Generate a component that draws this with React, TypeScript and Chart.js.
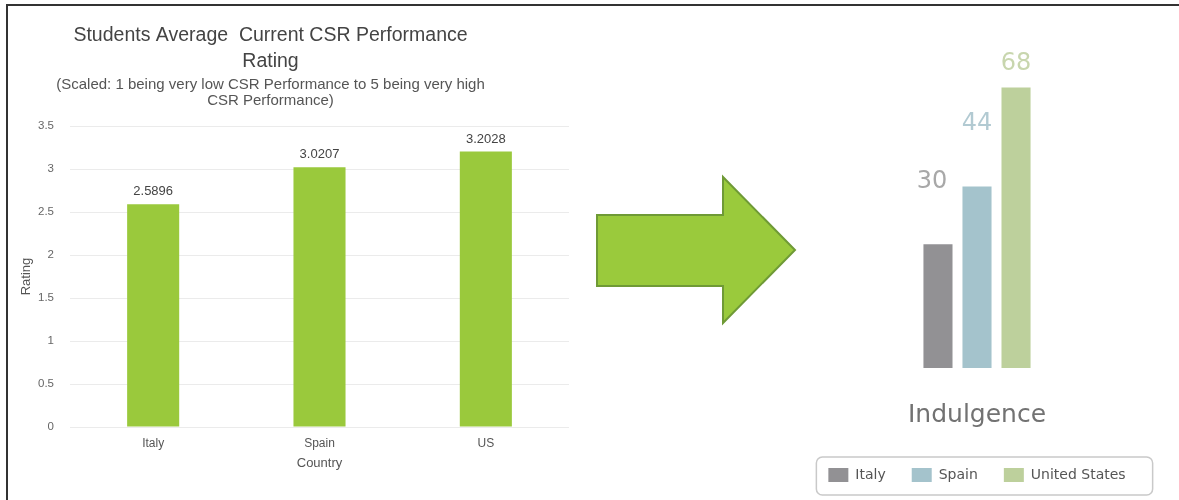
import React, { useEffect, useRef } from 'react';
import { Chart, registerables } from 'chart.js';

Chart.register(...registerables);

// ---------- Left chart data ----------
const csrCountries = ['Italy', 'Spain', 'US'];
const csrRatings = [2.5896, 3.0207, 3.2028];
const csrYMin = 0;
const csrYMax = 3.5;
const csrYStep = 0.5;
const csrYTickLabels = ['0', '0.5', '1', '1.5', '2', '2.5', '3', '3.5'];
const csrTitle = ['Students Average  Current CSR Performance', 'Rating'];
const csrSubtitle = ['(Scaled: 1 being very low CSR Performance to 5 being very high', 'CSR Performance)'];
const csrXTitle = 'Country';
const csrYTitle = 'Rating';

// ---------- Right chart data ----------
const indulgenceCategories = ['Indulgence'];
const indulgenceSeries = ['Italy', 'Spain', 'United States'];
const indulgenceValues = [30, 44, 68];
const indulgenceYMax = 80;

// ---------- Styles ----------
const LS = '"Liberation Sans", Arial, sans-serif';
const DV = '"DejaVu Sans", sans-serif';
const csrBarColor = '#9ac93c';
const indulgenceBarColors = ['#929194', '#a4c3cc', '#bdd09c'];
const indulgenceLabelColors = ['#a8a8a8', '#b2cad2', '#c8d6ae'];
const indulgenceLabelLift = [62, 63, 24];
const indulgenceLabelShift = [-6, 0, 0];

const csrValueLabels = {
  id: 'csrValueLabels',
  afterDatasetsDraw(chart: any) {
    const ctx = chart.ctx;
    const meta = chart.getDatasetMeta(0);
    const data = chart.data.datasets[0].data;
    ctx.save();
    ctx.font = `13px ${LS}`;
    ctx.fillStyle = '#444';
    ctx.textAlign = 'center';
    ctx.textBaseline = 'middle';
    meta.data.forEach((bar: any, i: number) => {
      ctx.fillText(String(data[i]), bar.x, bar.y - 12.5);
    });
    ctx.restore();
  },
};

const indulgenceValueLabels = {
  id: 'indulgenceValueLabels',
  afterDatasetsDraw(chart: any) {
    const ctx = chart.ctx;
    ctx.save();
    ctx.font = `24px ${DV}`;
    ctx.textAlign = 'center';
    ctx.textBaseline = 'middle';
    chart.data.datasets.forEach((ds: any, i: number) => {
      const bar: any = chart.getDatasetMeta(i).data[0];
      ctx.fillStyle = indulgenceLabelColors[i];
      ctx.fillText(String(ds.data[0]), bar.x + indulgenceLabelShift[i], bar.y - indulgenceLabelLift[i]);
    });
    ctx.restore();
  },
};

const legendFrame = {
  id: 'legendFrame',
  afterDraw(chart: any) {
    const hb = chart.legend && chart.legend.legendHitBoxes;
    if (!hb || !hb.length) return;
    const first = hb[0];
    const last = hb[hb.length - 1];
    const x0 = first.left - 12;
    const x1 = last.left + last.width + 27;
    const y0 = first.top - 11;
    const y1 = first.top + first.height + 13;
    const ctx = chart.ctx;
    ctx.save();
    ctx.strokeStyle = '#c9c9c9';
    ctx.lineWidth = 1.5;
    ctx.beginPath();
    (ctx as any).roundRect(x0, y0, x1 - x0, y1 - y0, 6);
    ctx.stroke();
    ctx.restore();
  },
};

function CsrChart() {
  const ref = useRef<HTMLCanvasElement>(null);
  useEffect(() => {
    if (!ref.current) return;
    const chart = new Chart(ref.current, {
      type: 'bar',
      data: {
        labels: csrCountries,
        datasets: [
          {
            label: csrYTitle,
            data: csrRatings,
            backgroundColor: csrBarColor,
            borderWidth: 0,
            categoryPercentage: 1,
            barPercentage: 0.313,
          },
        ],
      },
      options: {
        responsive: false,
        animation: false,
        layout: { padding: { left: 0, right: 3, top: 0, bottom: 9 } },
        plugins: {
          legend: { display: false },
          tooltip: { enabled: false },
          title: {
            display: true,
            text: csrTitle,
            color: '#444',
            font: { family: LS, size: 19.5, weight: 'normal', lineHeight: 26 / 19.5 },
            padding: { top: 23, bottom: 0 },
          },
          subtitle: {
            display: true,
            text: csrSubtitle,
            color: '#555',
            font: { family: LS, size: 15, weight: 'normal', lineHeight: 16 / 15 },
            padding: { top: 1.5, bottom: 17.5 },
          },
        },
        scales: {
          x: {
            grid: { display: false, drawTicks: false },
            border: { display: false },
            ticks: { color: '#555', font: { family: LS, size: 12 }, padding: 9 },
            title: {
              display: true,
              text: csrXTitle,
              color: '#555',
              font: { family: LS, size: 13, lineHeight: 1.2 },
              padding: { top: 0, bottom: 0 },
            },
            afterFit: (s: any) => {
              s.height = 44;
            },
          },
          y: {
            min: csrYMin,
            max: csrYMax,
            ticks: {
              stepSize: csrYStep,
              color: '#666',
              font: { family: LS, size: 11.5 },
              padding: 16,
              callback: (_v: any, i: number) => csrYTickLabels[i],
            },
            grid: { color: '#ebebeb', drawTicks: false },
            border: { display: false },
            title: {
              display: true,
              text: csrYTitle,
              color: '#555',
              font: { family: LS, size: 13, lineHeight: 1.2 },
              padding: { top: 47, bottom: 0 },
            },
            afterFit: (s: any) => {
              s.width = 98;
            },
          },
        },
      } as any,
      plugins: [csrValueLabels],
    });
    return () => chart.destroy();
  }, []);
  return (
    <canvas
      ref={ref}
      width={600}
      height={480}
      style={{ position: 'absolute', left: -28, top: 0, width: 600, height: 480 }}
    />
  );
}

function IndulgenceChart() {
  const ref = useRef<HTMLCanvasElement>(null);
  useEffect(() => {
    if (!ref.current) return;
    const chart = new Chart(ref.current, {
      type: 'bar',
      data: {
        labels: indulgenceCategories,
        datasets: indulgenceSeries.map((name, i) => ({
          label: name,
          data: [indulgenceValues[i]],
          backgroundColor: indulgenceBarColors[i],
          borderWidth: 0,
          categoryPercentage: 0.313,
          barPercentage: 0.745,
        })),
      },
      options: {
        responsive: false,
        animation: false,
        layout: { padding: { left: 0, right: 6, top: 8, bottom: 8 } },
        plugins: {
          tooltip: { enabled: false },
          legend: {
            position: 'bottom',
            labels: {
              boxWidth: 20,
              boxHeight: 14,
              padding: 26,
              color: '#555',
              font: { family: DV, size: 14 },
            },
          },
        },
        scales: {
          x: {
            grid: { display: false, drawTicks: false },
            border: { display: false },
            ticks: { color: '#727272', font: { family: DV, size: 25 }, padding: 32 },
            afterFit: (s: any) => {
              s.height = 74;
            },
          },
          y: { display: false, min: 0, max: indulgenceYMax },
        },
      } as any,
      plugins: [indulgenceValueLabels, legendFrame],
    });
    return () => chart.destroy();
  }, []);
  return (
    <canvas
      ref={ref}
      width={380}
      height={470}
      style={{ position: 'absolute', left: 790, top: 30, width: 380, height: 470 }}
    />
  );
}

export default function App() {
  return (
    <div
      style={{
        position: 'absolute',
        left: 0,
        top: 0,
        width: 1179,
        height: 500,
        overflow: 'hidden',
        background: '#fff',
      }}
    >
      <CsrChart />
      <svg
        width={1179}
        height={500}
        style={{ position: 'absolute', left: 0, top: 0, pointerEvents: 'none' }}
      >
        <polygon
          points="597,215 723,215 723,177 795,250 723,323 723,286 597,286"
          fill="#9aca3c"
          stroke="#6f9a36"
          strokeWidth={2}
          strokeLinejoin="miter"
        />
      </svg>
      <IndulgenceChart />
      <div
        style={{
          position: 'absolute',
          left: 6,
          top: 4,
          right: -10,
          bottom: -10,
          borderTop: '2px solid #333',
          borderLeft: '2px solid #333',
          pointerEvents: 'none',
        }}
      />
    </div>
  );
}
